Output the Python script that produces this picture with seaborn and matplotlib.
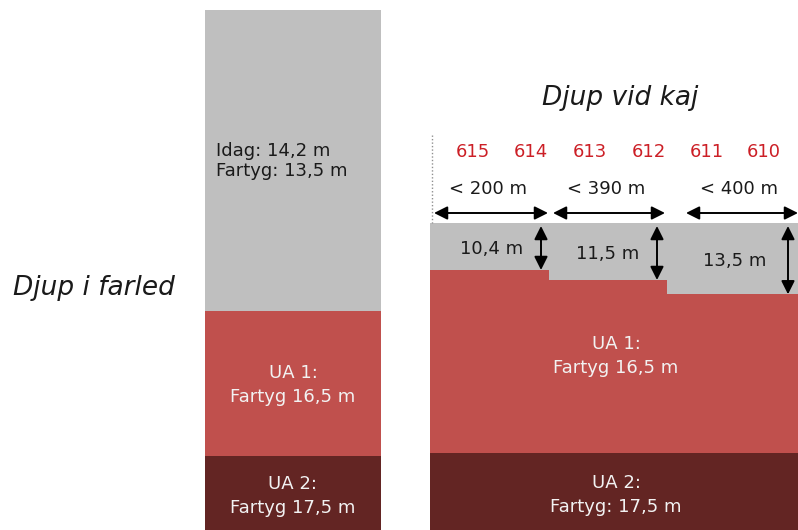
"""
Djup i farled / Djup vid kaj - schematic depth diagram.
"""
import matplotlib
matplotlib.use("Agg")
import matplotlib.pyplot as plt
import seaborn as sns

# --- data -------------------------------------------------------------
# layer colours: today's depth, UA 1, UA 2
LAYER_COLORS = ["#bfbfbf", "#c0504d", "#632523"]

# fairway column (schematic drawing units, y grows downwards)
fairway_x = 205
fairway_width = 176
fairway_bounds = [10, 311, 455.7, 530]          # top of each layer + bottom
fairway_labels = ["Idag: 14,2 m\nFartyg: 13,5 m",
                  "UA 1:\nFartyg 16,5 m",
                  "UA 2:\nFartyg 17,5 m"]

# quay sections
quay_edges = [430, 549, 667, 798]
quay_top = 222.7
quay_today_bottom = [270, 280, 294.3]           # where today's depth ends per section
quay_ua1_bottom = 452.7
quay_ua2_bottom = 530
quay_numbers = ["615", "614", "613", "612", "611", "610"]
quay_number_x = [473, 531, 590, 649, 707, 764]
section_lengths = ["< 200 m", "< 390 m", "< 400 m"]
length_arrow_x = [(434, 548), (553, 665), (686, 798)]
quay_depths = ["10,4 m", "11,5 m", "13,5 m"]
depth_label_x = [492, 608, 735]
depth_arrow_x = [541, 657, 788]

FS = 13

sns.set_theme(style="white")
plt.rcParams["font.family"] = ["DejaVu Sans"]

fig = plt.figure(figsize=(7.98, 5.30), dpi=100)
ax = fig.add_axes([0, 0, 1, 1])
ax.set_xlim(0, 798)
ax.set_ylim(530, 0)
ax.axis("off")

# fairway column
for i in range(3):
    ax.bar(fairway_x, fairway_bounds[i + 1] - fairway_bounds[i], width=fairway_width,
           bottom=fairway_bounds[i], align="edge", color=LAYER_COLORS[i], linewidth=0)

ax.text(216, 161, fairway_labels[0], ha="left", va="center", fontsize=FS,
        color="#1a1a1a", linespacing=1.2)
for i, yc in [(1, 385), (2, 496)]:
    ax.text(fairway_x + fairway_width / 2, yc, fairway_labels[i], ha="center", va="center",
            fontsize=FS, color="#f2f2f2", linespacing=1.45)

# quay sections
for i in range(3):
    x0, x1 = quay_edges[i], quay_edges[i + 1]
    ax.bar(x0, quay_today_bottom[i] - quay_top, width=x1 - x0, bottom=quay_top,
           align="edge", color=LAYER_COLORS[0], linewidth=0)
    ax.bar(x0, quay_ua1_bottom - quay_today_bottom[i], width=x1 - x0,
           bottom=quay_today_bottom[i], align="edge", color=LAYER_COLORS[1], linewidth=0)
ax.bar(quay_edges[0], quay_ua2_bottom - quay_ua1_bottom, width=quay_edges[-1] - quay_edges[0],
       bottom=quay_ua1_bottom, align="edge", color=LAYER_COLORS[2], linewidth=0)

qc = (quay_edges[0] + quay_edges[-1]) / 2 + 2
ax.text(qc, 356, fairway_labels[1], ha="center", va="center", fontsize=FS,
        color="#f2f2f2", linespacing=1.45)
ax.text(qc, 495, "UA 2:\nFartyg: 17,5 m", ha="center", va="center", fontsize=FS,
        color="#f2f2f2", linespacing=1.45)

# dotted marker line
ax.plot([432, 432], [135, quay_top], color="#909090", lw=1, ls=(0, (1, 1.5)))

for num, x in zip(quay_numbers, quay_number_x):
    ax.text(x, 152, num, ha="center", va="center", fontsize=FS, color="#cc1f26")

arrow_kw = dict(arrowstyle="<|-|>", color="black", lw=1.4, mutation_scale=20,
                shrinkA=0, shrinkB=0)
for label, (xa, xb) in zip(section_lengths, length_arrow_x):
    ax.annotate("", xy=(xb, 213), xytext=(xa, 213), arrowprops=arrow_kw)
    ax.text((xa + xb) / 2 - 3, 189, label, ha="center", va="center", fontsize=FS,
            color="#1a1a1a")

for label, lx, ax_x, yb in zip(quay_depths, depth_label_x, depth_arrow_x, quay_today_bottom):
    ax.annotate("", xy=(ax_x, yb), xytext=(ax_x, 226), arrowprops=arrow_kw)
    ax.text(lx, (226 + yb) / 2 + 1, label, ha="center", va="center", fontsize=FS,
            color="#1a1a1a")

# titles
ax.text(620, 98, "Djup vid kaj", ha="center", va="center", fontsize=19,
        style="italic", color="#1a1a1a")
ax.text(94, 288, "Djup i farled", ha="center", va="center", fontsize=19,
        style="italic", color="#1a1a1a")

fig.savefig("out.png", dpi=100)
